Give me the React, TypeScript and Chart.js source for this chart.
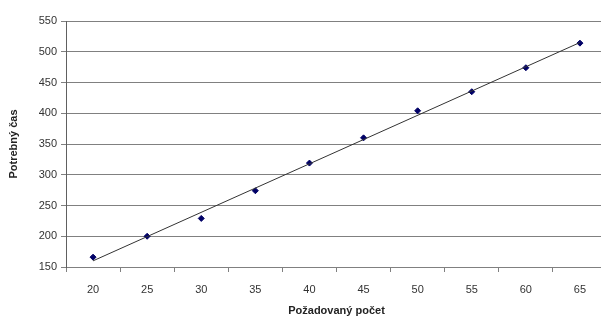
import React, { useEffect, useRef } from "react";
import { Chart, registerables } from "chart.js";
Chart.register(...registerables);

const categories = ["20", "25", "30", "35", "40", "45", "50", "55", "60", "65"];
const measured = [166, 200, 229, 274, 319, 360, 404, 435, 474, 514];
const trendLine = [160, null, null, null, null, null, null, null, null, 515];
const yTicks = { min: 150, max: 550, step: 50 };

export default function App() {
  const ref = useRef<HTMLCanvasElement>(null);
  useEffect(() => {
    const font = { family: "'Liberation Sans', Arial, sans-serif", size: 11 };
    const chart = new Chart(ref.current!, {
      type: "line",
      data: {
        labels: categories,
        datasets: [
          {
            label: "trend",
            data: trendLine,
            spanGaps: true,
            borderColor: "#333333",
            borderWidth: 1,
            pointRadius: 0,
            fill: false,
          },
          {
            label: "Potrebný čas",
            data: measured,
            showLine: false,
            pointStyle: "rectRot",
            pointRadius: 3,
            backgroundColor: "#000066",
            borderColor: "#000066",
          },
        ],
      },
      options: {
        animation: false,
        responsive: false,
        layout: { padding: { top: 21, right: 0, left: 7, bottom: 2 } },
        plugins: { legend: { display: false }, tooltip: { enabled: false } },
        scales: {
          x: {
            type: "category",
            offset: true,
            grid: {
              offset: true,
              drawOnChartArea: false,
              tickLength: 5,
              color: "#808080",
            },
            border: { color: "#808080" },
            ticks: { color: "#333333", font, padding: 11 },
            title: {
              display: true,
              text: "Požadovaný počet",
              color: "#222222",
              font: { ...font, weight: "bold" },
              padding: { top: 2, bottom: 0 },
            },
            afterFit: (s: any) => {
              s.height = 51;
            },
          },
          y: {
            min: yTicks.min,
            max: yTicks.max,
            ticks: { stepSize: yTicks.step, color: "#333333", font, padding: 4 },
            grid: { color: "#808080", tickLength: 5 },
            border: { color: "#606060" },
            title: {
              display: true,
              text: "Potrebný čas",
              color: "#222222",
              font: { ...font, weight: "bold" },
              padding: { top: 0, bottom: 4 },
            },
            afterFit: (s: any) => {
              s.width = 59;
            },
          },
        },
      },
    });
    return () => chart.destroy();
  }, []);
  return (
    <div style={{ position: "absolute", left: 0, top: 0, width: 601, height: 320, overflow: "hidden", background: "#fff" }}>
      <canvas ref={ref} width={612} height={320} style={{ width: 612, height: 320, display: "block" }} />
    </div>
  );
}
